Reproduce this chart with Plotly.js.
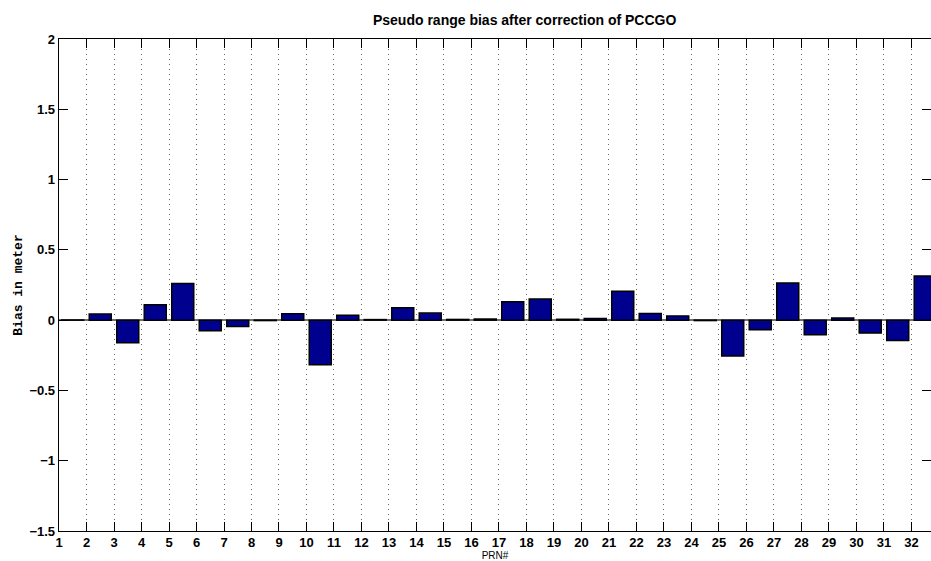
<!DOCTYPE html>
<html>
<head>
<meta charset="utf-8">
<script src="https://cdn.plot.ly/plotly-3.0.1.min.js"></script>
<style>html,body{margin:0;padding:0;background:#fff;}#chart{width:931px;height:561px;}</style>
</head>
<body>
<div id="chart"></div>
<script>
// PRN numbers (satellites)
const prn = [1,2,3,4,5,6,7,8,9,10,11,12,13,14,15,16,17,18,19,20,21,22,23,24,25,26,27,28,29,30,31,32];
// Pseudo range bias after correction (m)
const bias = [0.001, 0.043, -0.16, 0.11, 0.26, -0.075, -0.046, -0.003, 0.046, -0.317,
              0.034, 0.004, 0.089, 0.05, 0.005, 0.008, 0.13, 0.15, 0.006, 0.012,
              0.205, 0.048, 0.03, -0.003, -0.255, -0.068, 0.264, -0.104, 0.015, -0.092,
              -0.144, 0.314];
const yTicks = [-1.5, -1, -0.5, 0, 0.5, 1, 1.5, 2];
const titleText = 'Pseudo range bias after correction of PCCGO';
const xTitle = 'PRN#';
const yTitle = 'Bias in meter';

const trace = {
  type: 'bar',
  x: prn,
  y: bias,
  width: 0.8,
  offset: 0.1,
  marker: {color: '#00008F', line: {color: '#000000', width: 1.5}},
  hoverinfo: 'x+y'
};

const tickFont = {family: '"Liberation Sans", Arial, sans-serif', size: 13, color: '#000', weight: 'bold'};

const layout = {
  width: 931, height: 561,
  margin: {l: 59, r: 0, t: 39, b: 30},
  paper_bgcolor: '#fff', plot_bgcolor: '#fff',
  showlegend: false,
  bargap: 0.2,
  title: {
    text: titleText,
    font: {family: '"Liberation Sans", Arial, sans-serif', size: 14, color: '#000', weight: 'bold'},
    x: 0.534, xanchor: 'center', y: 0.965, yanchor: 'middle', xref: 'paper'
  },
  xaxis: {
    range: [1, 32.71],
    tickmode: 'array', tickvals: prn, ticktext: prn.map(String),
    ticks: 'inside', ticklen: 9, tickwidth: 1, tickcolor: '#000',
    showline: true, linecolor: '#000', linewidth: 1.3, mirror: 'ticks',
    showgrid: true, gridcolor: '#666', gridwidth: 1, griddash: '1px,4px',
    zeroline: false,
    tickfont: tickFont,
    ticklabelstandoff: -1,
    title: {text: xTitle, font: {family: '"Liberation Sans", Arial, sans-serif', size: 10, color: '#000'}, standoff: 0},
    automargin: false
  },
  yaxis: {
    range: [-1.5, 2],
    tickmode: 'array', tickvals: yTicks,
    ticks: 'inside', ticklen: 9, tickwidth: 1, tickcolor: '#000',
    showline: true, linecolor: '#000', linewidth: 1.3, mirror: 'ticks',
    showgrid: false,
    zeroline: true, zerolinecolor: '#707070', zerolinewidth: 1.5,
    tickfont: tickFont,
    ticklabelstandoff: 0,
    title: {text: yTitle, font: {family: '"Liberation Mono", "Courier New", monospace', size: 13, color: '#000', weight: 'bold'}, standoff: 4},
    automargin: false
  }
};

Plotly.newPlot('chart', [trace], layout, {displayModeBar: false, staticPlot: true});
</script>
</body>
</html>
